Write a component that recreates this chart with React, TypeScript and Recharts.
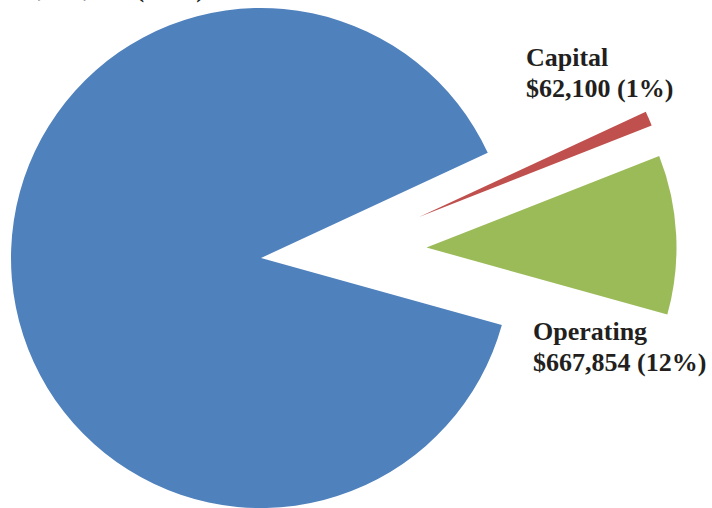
import { PieChart, Pie, Cell } from "recharts";

// budget split (blue slice label is cut off at the top)
const categories = ["Personnel", "Operating", "Capital"];
const amounts = [5767000, 667854, 62100];
const amountLabels = ["$5,767,000 (87%)", "$667,854 (12%)", "$62,100 (1%)"];
const colors = ["#4f81bd", "#9bbb59", "#c0504d"];

const data = categories.map((name, i) => ({ name, value: amounts[i] }));

// each slice gets its own pie so it can be pulled out on its own
const slicePositions = [
  { cx: 261, cy: 258 },
  { cx: 426.5, cy: 247.5 },
  { cx: 419, cy: 217 },
];

const labelStyle: React.CSSProperties = {
  position: "absolute",
  fontFamily: "'Liberation Serif', 'Times New Roman', serif",
  fontWeight: "bold",
  fontSize: 26,
  lineHeight: "31px",
  color: "#231f20",
  whiteSpace: "nowrap",
};

export default function App() {
  return (
    <div style={{ position: "fixed", top: 0, left: 0, width: 712, height: 508, background: "#fff", overflow: "hidden" }}>
      <PieChart width={712} height={508} margin={{ top: 0, right: 0, bottom: 0, left: 0 }}>
        {slicePositions.map((pos, k) => (
          <Pie
            key={k}
            data={data}
            dataKey="value"
            nameKey="name"
            cx={pos.cx}
            cy={pos.cy}
            outerRadius={250}
            startAngle={24.9}
            endAngle={384.9}
            stroke="none"
            isAnimationActive={false}
          >
            {data.map((d, i) => (
              <Cell key={d.name} fill={i === k ? colors[i] : "none"} />
            ))}
          </Pie>
        ))}
      </PieChart>
      <div style={{ ...labelStyle, left: 12, top: -27 }}>{amountLabels[0]}</div>
      <div style={{ ...labelStyle, left: 526, top: 42 }}>
        {categories[2]}
        <br />
        {amountLabels[2]}
      </div>
      <div style={{ ...labelStyle, left: 533, top: 316 }}>
        {categories[1]}
        <br />
        {amountLabels[1]}
      </div>
    </div>
  );
}
